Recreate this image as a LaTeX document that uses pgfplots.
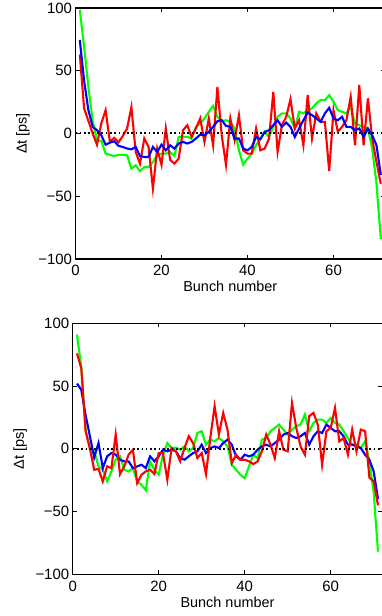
\documentclass[border=0pt]{standalone}
\usepackage{fontspec}
\setmainfont{Liberation Sans}
\usepackage{pgfplots}
\usepackage{pgfplotstable}
\pgfplotsset{compat=1.18}

\pgfplotstableread{
n g b r
1 98.6 74.6 63
2 69 42 20
3 37 18.6 10
4 10 5.3 0
5 -5.5 2.6 -9
6 -6 -1.4 8
7 -16 -8.9 18.6
8 -17 -7.3 -6.7
9 -18 -6.2 -3.5
10 -17 -9.9 -7
11 -17 -10.7 -2
12 -17.4 -12 4
13 -28 -12.6 21
14 -25.4 -10.7 -14.7
15 -30 -18 -24
16 -26.7 -18.7 -4
17 -26.7 -18.7 -10.7
18 -22.7 -10.7 -44
19 -17.4 -14.7 -12
20 -16 -8.9 -25
21 -16 -13.4 4
22 -14.7 -9.4 -21
23 -18 -12 -24
24 -2.7 -8 -20
25 -2.7 -6.7 2.6
26 -2.7 -8 6.6
27 -4 -6.7 -2.7
28 5.3 -4 4
29 8 -0.9 12
30 12 -1.4 -6.7
31 17.3 1.3 12
32 22 5.3 -9.4
33 13.3 9.8 37
34 9.8 10.6 -1.4
35 10.6 6.1 -25
36 9.3 5.3 12
37 4 -4 -5.4
38 -13.4 -4 14.6
39 -24.9 -12 -13.4
40 -20 -13.4 -16
41 -16 -10.7 -16
42 -9.4 -2.7 4
43 -4 -4.6 -13.4
44 1.3 1.3 -12
45 -2.7 2.6 -4
46 5.3 6.6 33
47 13.3 10.6 -14.7
48 16 5.3 6.6
49 16 8.7 13.3
50 12 5.3 27.4
51 4 -2.7 4
52 17.3 4 10.6
53 16 10.6 -9.4
54 18.6 16.7 30.6
55 20 14.6 -4
56 24 12 16
57 26.6 9.3 9.3
58 26.6 16 9.3
59 30.6 20.5 -30
60 25.3 12 18.6
61 18.6 10.6 1.3
62 17.3 13.3 5.3
63 16 5.3 10.6
64 21.3 5.3 29.3
65 8 2.6 -9.4
66 6.6 4 38.6
67 5.3 -2.7 -9.4
68 4 4 28
69 -12 -1.4 -4
70 -40 -9.4 -22.7
71 -84 -33 -40
}\toptable

\pgfplotstableread{
n g b r
1 91 52 76
2 65 47 64
3 15 27 14
4 0.6 10 0
5 -2 -7 -16.7
6 -14 4.6 -16
7 -16.7 -15.4 -26
8 -26 -6 -14
9 -18 -3.4 -15.4
10 -8.7 -4.7 11.3
11 -6 -8.7 -20.2
12 -16.7 -10 -14
13 -18 -10 -4.7
14 -15.4 -15.4 -0.8
15 -26 -14 -27.4
16 -28.7 -12.7 -20.7
17 -33 -15.4 -18
18 -10 -6 -16.7
19 -16.7 -10 -20.2
20 -20.7 -6 -3.4
21 -4.7 -0.7 -3.4
22 4.6 -2 -24.7
23 0.6 -0.7 0.6
24 1 -2 -2
25 -0.7 -7.4 -10
26 2 -8.7 0.6
27 -2 -6 10
28 0.6 -3.4 4.6
29 12.6 -2 -7.4
30 14 3.3 -3.4
31 3.3 -3.4 -20.2
32 7.3 0.6 8.6
33 6 1.9 34
34 8.6 0.6 11.3
35 6 4.6 28.6
36 2 7.3 15.3
37 -12.7 3.3 -11.4
38 -16.7 -6 -4.7
39 -20.7 -8.7 -8.7
40 -23.4 -4.7 -8.7
41 -14 -6 -10
42 -4.7 -4.7 -12.2
43 -7.4 -0.7 -10
44 7.3 1.9 -2
45 8.6 3.3 11.3
46 14 1.9 3.3
47 16.6 4.6 -7.4
48 19.3 7.3 14
49 15.3 11.3 -0.7
50 11.3 12.6 -2
51 15.3 10 36.6
52 18 8.6 16.6
53 19.3 10 1.9
54 27.3 12.6 -4.7
55 14 3.3 26
56 20.6 10 28.6
57 23.3 14 19.3
58 23.3 12.6 -12.7
59 20.6 19.3 14
60 24.6 16.6 16.6
61 20.6 14 32.6
62 19.3 14 5.9
63 14 10 8.6
64 8.6 3.3 -4.7
65 3.3 3.3 15.3
66 3.3 1.9 -2
67 0.6 0.6 15.3
68 6 -4.7 14
69 -10 -8.7 -23
70 -35 -18 -26
71 -82 -40 -45
}\bottomtable

\pgfplotsset{
  panel/.style={
    overlay,
    scale only axis, width=309.6bp, height=251bp,
    xmin=0, xmax=72, ymin=-100, ymax=100,
    xtick={0,20,40,60}, xticklabels={0,20,40,60},
    ytick={-100,-50,0,50,100}, yticklabels={−100,−50,0,50,100},
    tick align=inside, major tick length=4bp,
    axis line style={line width=1.1bp},
    every tick/.style={black, line width=0.8bp},
    tick label style={font=\fontsize{15}{17}\selectfont},
    xticklabel style={yshift=-3bp},
    label style={font=\fontsize{14.5}{17}\selectfont},
    xlabel={Bunch number}, ylabel={Δt [ps]},
    xlabel style={at={(axis description cs:0.5,-0.128)}, anchor=base},
    ylabel style={at={(axis description cs:-0.17,0.5)}, anchor=center},
  },
  ser/.style={line width=2.1bp},
  zeroline/.style={black, line width=2bp, dash pattern=on 1.6bp off 2.7bp},
}

\begin{document}
\begin{tikzpicture}
\path[use as bounding box] (0bp,0bp) rectangle (382bp,616bp);
\begin{axis}[panel, at={(75.5bp,357bp)}, anchor=south west]
  \addplot[ser, green] table[x=n, y=g] {\toptable};
  \addplot[ser, red] table[x=n, y=r] {\toptable};
  \addplot[ser, blue] table[x=n, y=b] {\toptable};
  \addplot[zeroline] coordinates {(0,0) (72,0)};
\end{axis}
\begin{axis}[panel, at={(72.7bp,41.7bp)}, anchor=south west, xlabel style={at={(axis description cs:0.5,-0.134)}}]
  \addplot[ser, green] table[x=n, y=g] {\bottomtable};
  \addplot[ser, blue] table[x=n, y=b] {\bottomtable};
  \addplot[ser, red] table[x=n, y=r] {\bottomtable};
  \addplot[zeroline] coordinates {(0,0) (72,0)};
\end{axis}
\end{tikzpicture}
\end{document}
